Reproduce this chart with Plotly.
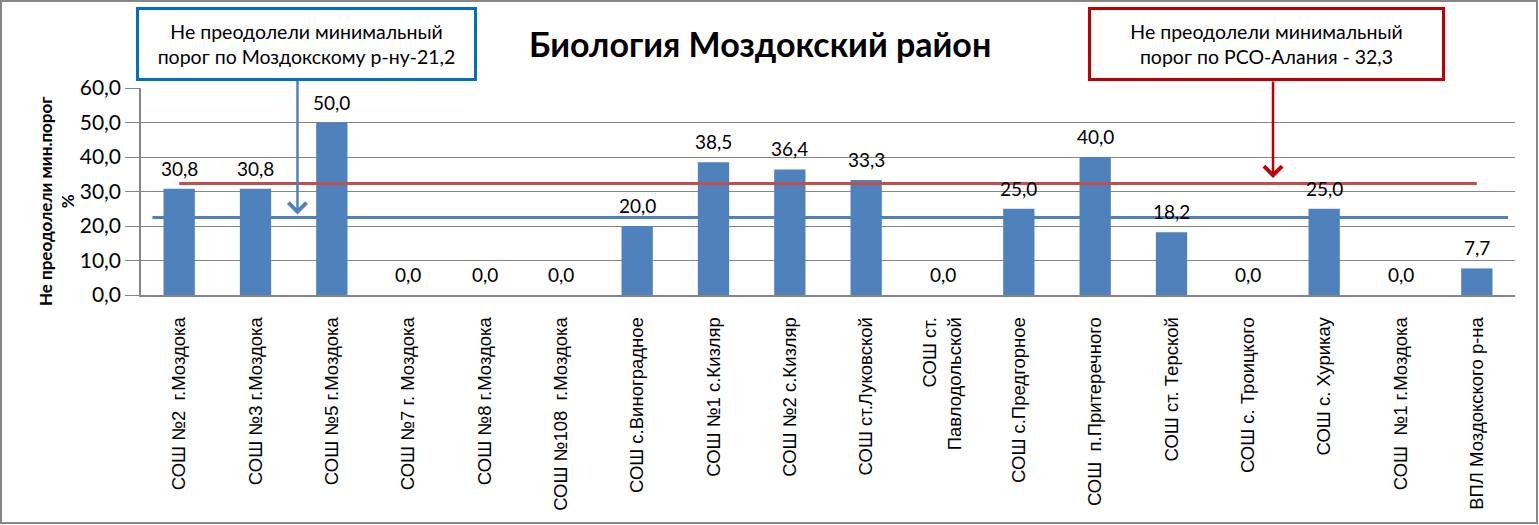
import plotly.graph_objects as go

categories = [
    "СОШ №2  г.Моздока", "СОШ №3 г.Моздока", "СОШ №5 г.Моздока", "СОШ №7 г. Моздока",
    "СОШ №8 г.Моздока", "СОШ №108  г.Моздока", "СОШ с.Виноградное", "СОШ №1 с.Кизляр",
    "СОШ №2 с.Кизляр", "СОШ ст.Луковской", "СОШ ст.<br>Павлодольской", "СОШ с.Предгорное",
    "СОШ  п.Притеречного", "СОШ ст. Терской", "СОШ с. Троицкого", "СОШ с. Хурикау",
    "СОШ  №1 г.Моздока", "ВПЛ Моздокского р-на",
]
values = [30.8, 30.8, 50.0, 0.0, 0.0, 0.0, 20.0, 38.5, 36.4, 33.3, 0.0, 25.0, 40.0, 18.2, 0.0, 25.0, 0.0, 7.7]

district_line = 22.5   # drawn level of the district threshold line
region_line = 32.3     # RSO-Alania threshold
district_text = "Не преодолели минимальный<br>порог по Моздокскому р-ну-21,2"
region_text = "Не преодолели минимальный<br>порог по РСО-Алания - 32,3"
title_text = "Биология Моздокский район"
ytitle_text = "Не преодолели мин.порог<br>%"
y_ticks = [0, 10, 20, 30, 40, 50, 60]

W, H = 1539, 525
L, R, T, B = 141, 24, 88, 230
pw, ph = W - L - R, H - T - B

def px_x(p):
    return (p - L) / pw

def px_y(p):
    return (H - B - p) / ph

FONT = "Lato"
BAR = "#4F81BD"
GRID = "#868686"

fig = go.Figure()
fig.add_trace(go.Bar(x=categories, y=values, marker=dict(color=BAR, line=dict(width=0)),
                     hoverinfo="skip"))

annotations = []
for c, v in zip(categories, values):
    annotations.append(dict(x=c, y=v, xref="x", yref="y", text=f"{v:.1f}".replace(".", ","),
                            showarrow=False, xanchor="center", yanchor="bottom", yshift=7,
                            font=dict(family=FONT, size=19, color="#000")))

n = len(categories)
shapes = [
    dict(type="line", xref="x", yref="y", x0=-0.35, x1=n - 1 + 0.41, y0=district_line, y1=district_line,
         line=dict(color="#4F81BD", width=3)),
    dict(type="line", xref="x", yref="y", x0=0, x1=n - 1, y0=region_line, y1=region_line,
         line=dict(color="#C0504D", width=3)),
    dict(type="rect", xref="paper", yref="paper", x0=px_x(1), x1=px_x(W - 2), y0=px_y(H - 2), y1=px_y(1),
         line=dict(color=GRID, width=2), fillcolor="rgba(0,0,0,0)", layer="below"),
]

# arrows from callouts
annotations.append(dict(x=1.55, y=23.3, xref="x", yref="y", ax=0, ay=-135, showarrow=True,
                        arrowhead=4, arrowsize=1.4, arrowwidth=2.5, arrowcolor="#4F81BD", text=""))
annotations.append(dict(x=14.33, y=33.9, xref="x", yref="y", ax=0, ay=-98, showarrow=True,
                        arrowhead=4, arrowsize=1.4, arrowwidth=2.5, arrowcolor="#C00000", text=""))

# callout boxes
annotations.append(dict(x=px_x(306.5), y=px_y(44), xref="paper", yref="paper", text=district_text,
                        xanchor="center", yanchor="middle",
                        showarrow=False, width=335, height=68, borderpad=0, borderwidth=3,
                        bordercolor="#0070C0", bgcolor="white", align="center",
                        font=dict(family=FONT, size=19.5, color="#000")))
annotations.append(dict(x=px_x(1266.5), y=px_y(44), xref="paper", yref="paper", text=region_text,
                        xanchor="center", yanchor="middle",
                        showarrow=False, width=351, height=68, borderpad=0, borderwidth=3,
                        bordercolor="#C00000", bgcolor="white", align="center",
                        font=dict(family=FONT, size=19.5, color="#000")))

# title
annotations.append(dict(x=px_x(760), y=px_y(44), xref="paper", yref="paper", text=f"<b>{title_text}</b>",
                        xanchor="center", yanchor="middle",
                        showarrow=False, font=dict(family=FONT, size=34, color="#000")))
# y title
annotations.append(dict(x=px_x(56), y=px_y(202), xref="paper", yref="paper", text=f"<b>{ytitle_text}</b>",
                        xanchor="center", yanchor="middle",
                        showarrow=False, textangle=-90, font=dict(family=FONT, size=17, color="#000")))

ticktext = [c.replace("  ", " \u00a0") for c in categories]

fig.update_layout(
    width=W, height=H, margin=dict(l=L, r=R, t=T, b=B),
    paper_bgcolor="white", plot_bgcolor="white",
    separators=", ", showlegend=False, bargap=0.59,
    shapes=shapes, annotations=annotations,
)
fig.update_xaxes(type="category", tickangle=-90, showline=True, linecolor=GRID, linewidth=1.5,
                 ticks="", ticklabelstandoff=13, showgrid=False,
                 tickmode="array", tickvals=categories, ticktext=ticktext,
                 tickfont=dict(family="Liberation Sans", size=18.5, color="#000"),
                 range=[-0.5, n - 0.5])
fig.update_yaxes(range=[0, 60], tickvals=y_ticks, tickformat=".1f", showline=True, linecolor=GRID,
                 linewidth=1.5, ticks="outside", ticklen=14, tickcolor=GRID, showgrid=True,
                 gridcolor=GRID, gridwidth=1, zeroline=False,
                 tickfont=dict(family=FONT, size=21, color="#000"))

fig.write_html("out.html")
